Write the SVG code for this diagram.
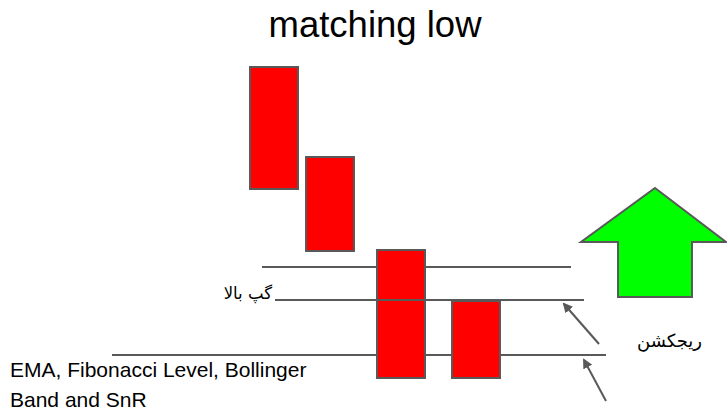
<svg xmlns="http://www.w3.org/2000/svg" width="727" height="412" viewBox="0 0 727 412">
<style>
.c{fill:#ff0000;stroke:#595959;stroke-width:2}
.l{stroke:#595959;stroke-width:2;fill:none}
.t{font-family:"Liberation Sans",Arial,sans-serif;fill:#000}
.a{font-family:"DejaVu Sans",sans-serif;fill:#000}
</style>
<defs>
<marker id="ah" markerWidth="10" markerHeight="10" refX="8" refY="5" orient="auto" markerUnits="userSpaceOnUse" viewBox="0 0 10 10">
<path d="M0,0 L10,5 L0,10 z" fill="#595959"/>
</marker>
</defs>
<rect width="727" height="412" fill="#fff"/>
<text class="t" x="375" y="37" font-size="36.5" text-anchor="middle">matching low</text>
<g id="connectors">
<line class="l" x1="262" y1="267" x2="571" y2="267"/>
<line class="l" x1="112" y1="355" x2="606" y2="355"/>
<line class="l" x1="599" y1="344" x2="564" y2="304" marker-end="url(#ah)"/>
<line class="l" x1="606" y1="401" x2="584" y2="360" marker-end="url(#ah)"/>
</g>
<g id="candle1"><rect class="c" x="250" y="67" width="48" height="122"/></g>
<g id="candle2"><rect class="c" x="306" y="157" width="48" height="94"/></g>
<g id="candle3"><rect class="c" x="377" y="250" width="48" height="128"/></g>
<g id="candle4"><rect class="c" x="452" y="301" width="48" height="77"/></g>
<g id="gapline"><line class="l" x1="275" y1="300" x2="584" y2="300"/></g>
<g id="uparrow"><path d="M655,188 L726,242 L692,242 L692,297 L618,297 L618,242 L581,242 Z" fill="#00ff00" stroke="#595959" stroke-width="2"/></g>
<g id="labels">
<text class="a" x="272" y="299" font-size="16.5" text-anchor="start" direction="rtl">گپ بالا</text>
<text class="a" x="702" y="347" font-size="18" text-anchor="start" direction="rtl">ريجكشن</text>
<text class="t" x="10" y="377" font-size="21">EMA, Fibonacci Level, Bollinger</text>
<text class="t" x="10" y="407" font-size="21">Band and SnR</text>
</g>
</svg>
